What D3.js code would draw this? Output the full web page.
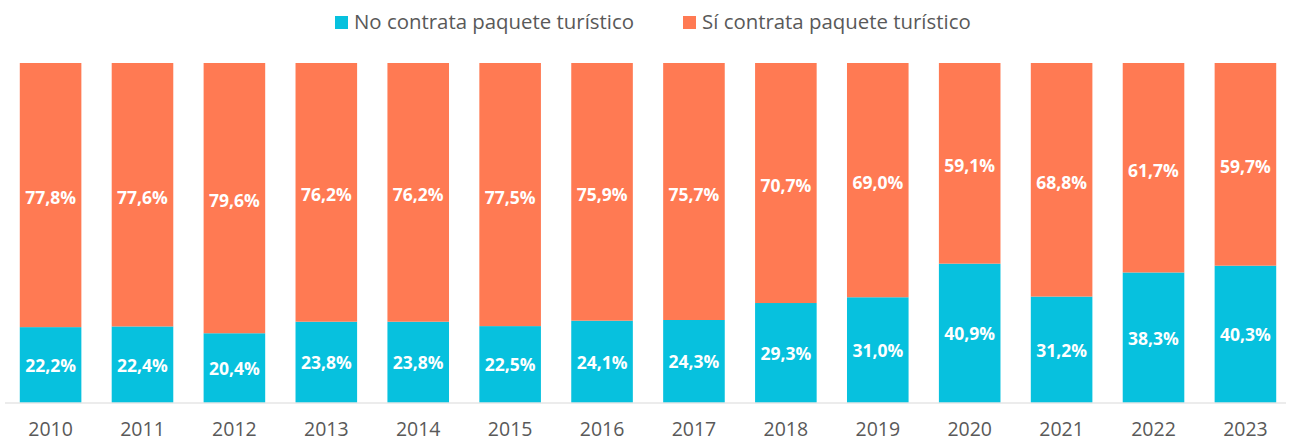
<!DOCTYPE html>
<html>
<head>
<meta charset="utf-8">
<script src="https://cdn.jsdelivr.net/npm/d3@7"></script>
<style>
  body { margin: 0; background: #fff; }
  svg { display: block; font-family: "Open Sans", sans-serif; }
</style>
</head>
<body>
<svg width="1291" height="441"></svg>
<script>
const years = ['2010','2011','2012','2013','2014','2015','2016','2017','2018','2019','2020','2021','2022','2023'];
const noPaquete = [22.2, 22.4, 20.4, 23.8, 23.8, 22.5, 24.1, 24.3, 29.3, 31.0, 40.9, 31.2, 38.3, 40.3];
const siPaquete = [77.8, 77.6, 79.6, 76.2, 76.2, 77.5, 75.9, 75.7, 70.7, 69.0, 59.1, 68.8, 61.7, 59.7];
const seriesNames = ['No contrata paquete turístico', 'Sí contrata paquete turístico'];
const colors = ['#07C1DE', '#FF7A53'];

const svg = d3.select('svg');
const width = +svg.attr('width');

const x = d3.scaleBand()
    .domain(years)
    .range([6, 1290])
    .paddingInner(0.33)
    .paddingOuter(0.15);

const y = d3.scaleLinear()
    .domain([0, 100])
    .range([402.5, 63]);

const rows = years.map((yr, i) => ({year: yr, no: noPaquete[i], si: siPaquete[i]}));
const stack = d3.stack().keys(['no', 'si']);
const layers = stack(rows);

const fmt = v => v.toFixed(1).replace('.', ',') + '%';
const labelShift = [1, 3];

layers.forEach((layer, k) => {
    const g = svg.append('g');
    g.selectAll('rect')
        .data(layer)
        .join('rect')
        .attr('x', d => x(d.data.year))
        .attr('y', d => y(d[1]))
        .attr('width', x.bandwidth())
        .attr('height', d => y(d[0]) - y(d[1]))
        .attr('fill', colors[k]);
    g.selectAll('text')
        .data(layer)
        .join('text')
        .attr('x', d => x(d.data.year) + x.bandwidth()/2)
        .attr('y', d => (y(d[0]) + y(d[1]))/2 + labelShift[k])
        .attr('dy', '0.35em')
        .attr('text-anchor', 'middle')
        .attr('fill', '#fff')
        .attr('font-weight', 700)
        .attr('font-size', 17.5)
        .text(d => fmt(d[1] - d[0]));
});

// baseline
svg.append('line')
    .attr('x1', 5).attr('x2', 1286)
    .attr('y1', y(0) + 0.5).attr('y2', y(0) + 0.5)
    .attr('stroke', '#D9D9D9')
    .attr('stroke-width', 1);

const xAxis = svg.append('g')
    .attr('transform', `translate(0,${y(0)})`)
    .call(d3.axisBottom(x).tickSize(0).tickPadding(0));
xAxis.select('.domain').remove();
xAxis.selectAll('text')
    .attr('y', 33)
    .attr('dy', 0)
    .attr('font-size', 19.5)
    .attr('font-family', '"Open Sans", sans-serif')
    .attr('fill', '#595959');

// legend
const legendX = [335, 683];
const legend = svg.append('g');
seriesNames.forEach((name, i) => {
    legend.append('rect')
        .attr('x', legendX[i]).attr('y', 16)
        .attr('width', 13).attr('height', 13)
        .attr('fill', colors[i]);
    legend.append('text')
        .attr('x', legendX[i] + 19)
        .attr('y', 29)
        .attr('font-size', 20.4)
        .attr('fill', '#595959')
        .text(name);
});
</script>
</body>
</html>
